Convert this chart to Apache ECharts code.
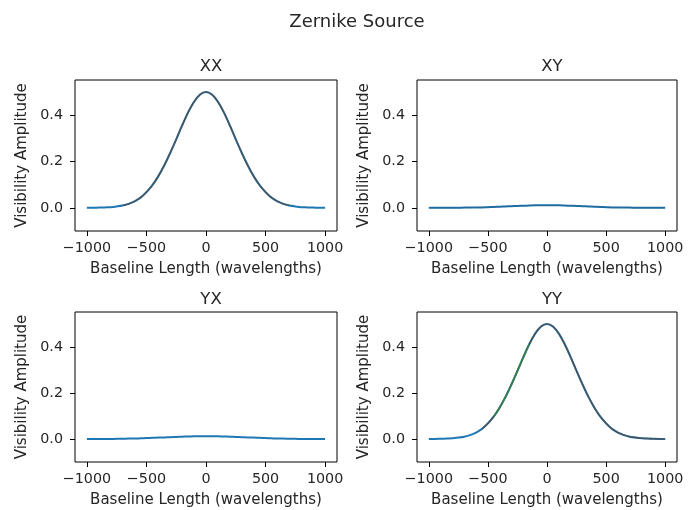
<!DOCTYPE html>
<html>
<head>
<meta charset="utf-8">
<script src="https://cdn.jsdelivr.net/npm/echarts@6/dist/echarts.min.js"></script>
<style>
  html, body { margin: 0; padding: 0; background: #fff; }
  #chart { width: 688px; height: 510px; }
</style>
</head>
<body>
<div id="chart"></div>
<script>
// Baseline lengths in wavelengths
const baseline = [-1000, -950, -900, -850, -800, -750, -700, -650, -600, -550, -500,
  -450, -400, -350, -300, -250, -200, -150, -100, -50, 0,
  50, 100, 150, 200, 250, 300, 350, 400, 450, 500,
  550, 600, 650, 700, 750, 800, 850, 900, 950, 1000];

// Visibility amplitude per polarisation product
const xxAmp = [0.000, 0.000, 0.001, 0.002, 0.003, 0.006, 0.010, 0.017, 0.028, 0.044, 0.068,
  0.098, 0.137, 0.184, 0.238, 0.296, 0.356, 0.412, 0.458, 0.489, 0.500,
  0.489, 0.458, 0.412, 0.356, 0.296, 0.238, 0.184, 0.137, 0.098, 0.068,
  0.044, 0.028, 0.017, 0.010, 0.006, 0.003, 0.002, 0.001, 0.000, 0.000];
const xyAmp = [0.000, 0.000, 0.000, 0.000, 0.000, 0.000, 0.001, 0.001, 0.002, 0.002, 0.003,
  0.004, 0.005, 0.006, 0.007, 0.008, 0.009, 0.010, 0.011, 0.011, 0.011,
  0.011, 0.011, 0.010, 0.009, 0.008, 0.007, 0.006, 0.005, 0.004, 0.003,
  0.002, 0.002, 0.001, 0.001, 0.000, 0.000, 0.000, 0.000, 0.000, 0.000];
const yxAmp = [0.000, 0.000, 0.000, 0.000, 0.000, 0.001, 0.001, 0.002, 0.002, 0.003, 0.004,
  0.005, 0.006, 0.007, 0.008, 0.009, 0.010, 0.011, 0.012, 0.012, 0.012,
  0.012, 0.012, 0.011, 0.010, 0.009, 0.008, 0.007, 0.006, 0.005, 0.004,
  0.003, 0.002, 0.002, 0.001, 0.001, 0.000, 0.000, 0.000, 0.000, 0.000];
const yyAmp = [0.000, 0.000, 0.001, 0.002, 0.003, 0.006, 0.010, 0.017, 0.028, 0.044, 0.068,
  0.098, 0.137, 0.184, 0.238, 0.296, 0.356, 0.412, 0.458, 0.489, 0.500,
  0.489, 0.458, 0.412, 0.356, 0.296, 0.238, 0.184, 0.137, 0.098, 0.068,
  0.044, 0.028, 0.017, 0.010, 0.006, 0.003, 0.002, 0.001, 0.000, 0.000];

const xTicks = [-1000, -500, 0, 500, 1000];
const yTicks = [0, 0.2, 0.4];
const panelTitles = ['XX', 'XY', 'YX', 'YY'];

const FONT = 'DejaVu Sans';
const INK = '#262626';

const grids = [
  { left: 75, top: 80, width: 262, height: 151 },
  { left: 417, top: 80, width: 260, height: 151 },
  { left: 75, top: 312, width: 262, height: 150 },
  { left: 417, top: 312, width: 260, height: 150 }
];

function pairs(values, lo, hi) {
  return baseline.map((b, i) => (b >= lo && b <= hi) ? [b, values[i]] : [b, null]);
}

const xAxes = grids.map((g, i) => ({
  type: 'value', gridIndex: i, min: -1100, max: 1100,
  name: 'Baseline Length (wavelengths)', nameLocation: 'middle', nameGap: 31,
  nameTextStyle: { fontFamily: FONT, fontSize: 15, color: INK },
  axisLine: { show: false, onZero: false },
  axisTick: { show: true, length: 5, customValues: xTicks, lineStyle: { color: '#000', width: 1 } },
  axisLabel: { customValues: xTicks, margin: 10, fontFamily: FONT, fontSize: 14.3, color: INK,
    formatter: v => (v < 0 ? '\u2212' + Math.abs(v) : String(v)) },
  splitLine: { show: false }
}));

const yAxes = grids.map((g, i) => ({
  type: 'value', gridIndex: i, min: -0.1, max: 0.552,
  name: 'Visibility Amplitude', nameLocation: 'middle', nameGap: 45,
  nameTextStyle: { fontFamily: FONT, fontSize: 15, color: INK },
  axisLine: { show: false, onZero: false },
  axisTick: { show: true, length: 5, customValues: yTicks, lineStyle: { color: '#000', width: 1 } },
  axisLabel: { customValues: yTicks, margin: 12, fontFamily: FONT, fontSize: 14.3, color: INK,
    formatter: v => v.toFixed(1) },
  splitLine: { show: false }
}));

const amps = [xxAmp, xyAmp, yxAmp, yyAmp];
const BLUE = '#1f77b4';
const series = [];
amps.forEach((a, i) => {
  series.push({
    type: 'line', xAxisIndex: i, yAxisIndex: i, data: pairs(a, -1000, 1000),
    showSymbol: false, smooth: 0.3, lineStyle: { color: BLUE, width: 2 }, silent: true
  });
});
// Later channels drawn over the first one
series.push({ type: 'line', xAxisIndex: 0, yAxisIndex: 0, data: pairs(xxAmp, -700, 700),
  showSymbol: false, smooth: 0.3, connectNulls: false, silent: true,
  lineStyle: { color: '#4d4d4d', width: 1.6, opacity: 0.8 } });
series.push({ type: 'line', xAxisIndex: 1, yAxisIndex: 1, data: pairs(xyAmp, -1000, 1000),
  showSymbol: false, smooth: 0.3, silent: true,
  lineStyle: { color: '#2a4f6a', width: 1.2, opacity: 0.35 } });
series.push({ type: 'line', xAxisIndex: 3, yAxisIndex: 3, data: pairs(yyAmp, -550, 1000),
  showSymbol: false, smooth: 0.3, silent: true,
  lineStyle: { color: '#4d4d4d', width: 1.6, opacity: 0.8 } });
series.push({ type: 'line', xAxisIndex: 3, yAxisIndex: 3, data: pairs(yyAmp, -450, -150),
  showSymbol: false, smooth: 0.3, silent: true,
  lineStyle: { color: '#2ca02c', width: 1.6, opacity: 0.55 } });

const titlePos = [[206, 53], [547, 53], [206, 286], [547, 286]];
const titles = [{
  text: 'Zernike Source', left: 352, top: 8, textAlign: 'center',
  textStyle: { fontFamily: FONT, fontSize: 18, fontWeight: 'normal', color: INK }
}].concat(panelTitles.map((t, i) => ({
  text: t, left: titlePos[i][0], top: titlePos[i][1], textAlign: 'center',
  textStyle: { fontFamily: FONT, fontSize: 16.5, fontWeight: 'normal', color: INK }
})));

const chart = echarts.init(document.getElementById('chart'), null, { renderer: 'canvas' });
chart.setOption({
  animation: false,
  backgroundColor: '#ffffff',
  title: titles,
  grid: grids.map(g => Object.assign({ show: true, borderColor: '#000', borderWidth: 1, backgroundColor: 'transparent' }, g)),
  xAxis: xAxes,
  yAxis: yAxes,
  series: series
});
</script>
</body>
</html>
